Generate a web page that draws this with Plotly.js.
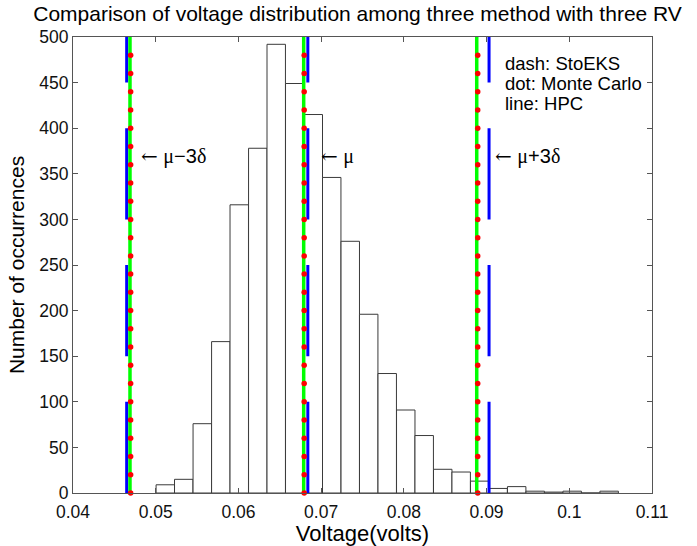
<!DOCTYPE html>
<html>
<head>
<meta charset="utf-8">
<script src="https://cdn.plot.ly/plotly-3.0.1.min.js"></script>
<style>html,body{margin:0;padding:0;background:#fff;}#chart{width:697px;height:546px;}</style>
</head>
<body>
<div id="chart"></div>
<script>
// Histogram bin centres (volts) and counts
const binCenters = [0.05116, 0.05339, 0.05563, 0.05787, 0.06010, 0.06234, 0.06457, 0.06681, 0.06905, 0.07128,
                    0.07352, 0.07575, 0.07799, 0.08023, 0.08246, 0.08470, 0.08693, 0.08917, 0.09140, 0.09364,
                    0.09588, 0.09811, 0.10035, 0.10258, 0.10482];
const binCounts = [9, 15, 76, 166, 316, 378, 492, 449, 415, 346,
                   276, 196, 131, 91, 63, 26, 23, 13, 5, 7,
                   2, 1, 2, 0, 2];

// mu-3delta, mu, mu+3delta for each method
const hpcLines = [0.04689, 0.06789, 0.08881];      // line: HPC
const monteCarloLines = [0.04697, 0.06795, 0.08893]; // dot: Monte Carlo
const stoeksLines = [0.04649, 0.06839, 0.09030];    // dash: StoEKS
const lineSpan = [0, 500];
const monteCarloDotLevels = [0, 20, 40, 60, 80, 100, 120, 140, 160, 180, 200, 220, 240,
                             260, 280, 300, 320, 340, 360, 380, 400, 420, 440, 460, 480];

// Annotations
const markLabels = ['← μ−3δ', '← μ', '← μ+3δ'];
const markLabelX = [0.04798, 0.06978, 0.09074];
const markLabelY = 369;
const legendLines = ['dash: StoEKS', 'dot: Monte Carlo', 'line: HPC'];
const legendX = 0.09203;
const legendY = [471, 449, 427];

const xTickVals = [0.04, 0.05, 0.06, 0.07, 0.08, 0.09, 0.10, 0.11];
const xTickText = ['0.04', '0.05', '0.06', '0.07', '0.08', '0.09', '0.1', '0.11'];

const SANS = '"Liberation Sans", Arial, sans-serif';
const SERIF = "'Liberation Serif', 'DejaVu Serif', serif";
const ARROWFONT = "'DejaVu Serif', serif";

const traces = [];
traces.push({
  type: 'bar', x: binCenters, y: binCounts,
  marker: {color: '#ffffff', line: {color: '#3a3a3a', width: 1}},
  hoverinfo: 'skip', showlegend: false
});
stoeksLines.forEach(v => traces.push({
  type: 'scatter', mode: 'lines', x: [v, v], y: lineSpan,
  line: {color: '#0000ff', width: 3, dash: '91.2px,45.6px'}, showlegend: false, hoverinfo: 'skip'
}));
hpcLines.forEach(v => traces.push({
  type: 'scatter', mode: 'lines', x: [v, v], y: lineSpan,
  line: {color: '#00ff00', width: 3.5}, showlegend: false, hoverinfo: 'skip'
}));
monteCarloLines.forEach(v => traces.push({
  type: 'scatter', mode: 'markers', x: monteCarloDotLevels.map(() => v), y: monteCarloDotLevels,
  marker: {color: '#ff0000', size: 5.5, line: {width: 0}}, showlegend: false, hoverinfo: 'skip', cliponaxis: false
}));

function styleMark(t) {
  return t.replace(/←/g, '<span style="font-family:' + ARROWFONT + '">←</span>')
          .replace(/([μδ])/g, '<span style="font-family:' + SERIF + '">$1</span>');
}

const annotations = [];
markLabels.forEach((t, i) => {
  annotations.push({
    x: markLabelX[i], y: markLabelY, xref: 'x', yref: 'y', text: styleMark(t),
    showarrow: false, xanchor: 'left', yanchor: 'middle',
    font: {family: SANS, size: 20, color: '#000'}
  });
});
legendLines.forEach((t, i) => annotations.push({
  x: legendX, y: legendY[i], xref: 'x', yref: 'y', text: t,
  showarrow: false, xanchor: 'left', yanchor: 'middle',
  font: {family: SANS, size: 18.5, color: '#000'}
}));

const axisCommon = {
  showline: true, linecolor: '#555', linewidth: 1, mirror: 'ticks',
  ticks: 'inside', ticklen: 5, tickcolor: '#555', tickwidth: 1,
  showgrid: false, zeroline: false,
  tickfont: {family: SANS, size: 17.5, color: '#111'}
};

const layout = {
  width: 697, height: 546,
  margin: {l: 73, r: 45, t: 37, b: 53, pad: 0},
  paper_bgcolor: '#fff', plot_bgcolor: '#fff',
  bargap: 0,
  title: {text: 'Comparison of voltage distribution among three method with three RV',
          font: {family: SANS, size: 21, color: '#000'}, x: 0.513, xanchor: 'center', y: 0.975, yanchor: 'middle'},
  xaxis: Object.assign({}, axisCommon, {
    range: [0.04, 0.11], tickvals: xTickVals, ticktext: xTickText, ticklabelstandoff: 3,
    title: {text: 'Voltage(volts)', font: {family: SANS, size: 22, color: '#000'}, standoff: 4}
  }),
  yaxis: Object.assign({}, axisCommon, {
    range: [0, 500], dtick: 50, tick0: 0,
    title: {text: 'Number of occurrences', font: {family: SANS, size: 21, color: '#000'}, standoff: 8}
  }),
  annotations: annotations,
  showlegend: false
};

Plotly.newPlot('chart', traces, layout, {displayModeBar: false, staticPlot: true});
</script>
</body>
</html>
